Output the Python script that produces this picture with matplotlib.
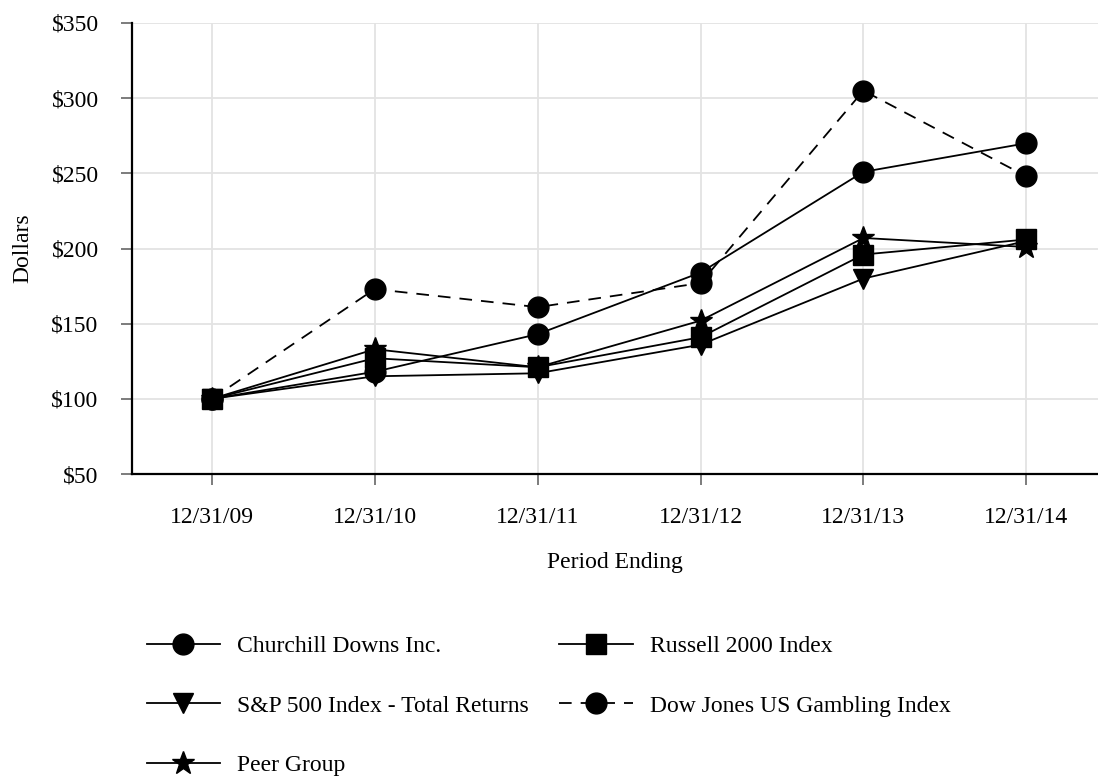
import matplotlib
matplotlib.use("Agg")
import matplotlib.pyplot as plt

# chart data
periods = ["12/31/09", "12/31/10", "12/31/11", "12/31/12", "12/31/13", "12/31/14"]
churchill = [100, 118, 143, 184, 251, 270]
sp500 = [100, 115, 117, 136, 180, 205]
peer_group = [100, 133, 121, 152, 207, 201]
russell = [100, 127, 121, 141, 196, 206]
dj_gambling = [100, 173, 161, 177, 305, 248]
y_ticks = [50, 100, 150, 200, 250, 300, 350]
y_tick_labels = ["$50", "$100", "$150", "$200", "$250", "$300", "$350"]

plt.rcParams['font.family'] = ['Liberation Serif', 'DejaVu Serif']
plt.rcParams['font.size'] = 17

fig = plt.figure(figsize=(10.98, 7.76), dpi=100)
ax = fig.add_axes([132 / 1098, 1 - 474 / 776, 1 - 132 / 1098, (474 - 23) / 776])

x = list(range(len(periods)))
common = dict(color='black', linewidth=1.3, markerfacecolor='black', markeredgecolor='black')

h_cdi, = ax.plot(x, churchill, marker='o', markersize=15, label='Churchill Downs Inc.', zorder=3, **common)
h_sp, = ax.plot(x, sp500, marker='v', markersize=14, label='S&P 500 Index - Total Returns', zorder=3, **common)
h_peer, = ax.plot(x, peer_group, marker='*', markersize=17, label='Peer Group', zorder=3, **common)
h_rus, = ax.plot(x, russell, marker='s', markersize=14, label='Russell 2000 Index', zorder=4, **common)
h_dj, = ax.plot(x, dj_gambling, marker='o', markersize=15, linestyle=(0, (7, 5)),
                label='Dow Jones US Gambling Index', zorder=3, **common)

ax.set_xlim(-0.49, 5.44)
ax.set_ylim(50, 350)
ax.set_xticks(x)
ax.set_xticklabels(periods)
ax.set_yticks(y_ticks)
ax.set_yticklabels(y_tick_labels)

ax.grid(True, color='#e3e3e3', linewidth=1.3, zorder=0)
ax.set_axisbelow(True)
for side in ['top', 'right']:
    ax.spines[side].set_visible(False)
for side in ['left', 'bottom']:
    ax.spines[side].set_linewidth(1.6)
    ax.spines[side].set_color('black')
ax.tick_params(axis='both', direction='out', length=8, width=1.2, color='#666666', pad=16)

ax.set_xlabel('Period Ending', labelpad=17)
ax.set_ylabel('Dollars', labelpad=13)

# legend laid out in two columns, row-wise like the original
fig.legend(handles=[h_cdi, h_sp, h_peer, h_rus, h_dj], loc='upper left',
           bbox_to_anchor=(135 / 1098, 1 - 624 / 776), ncol=2, frameon=False,
           borderpad=0, handlelength=3.1, handletextpad=0.72, columnspacing=1.3,
           labelspacing=1.6, numpoints=1)

fig.savefig('out.png', dpi=100)
